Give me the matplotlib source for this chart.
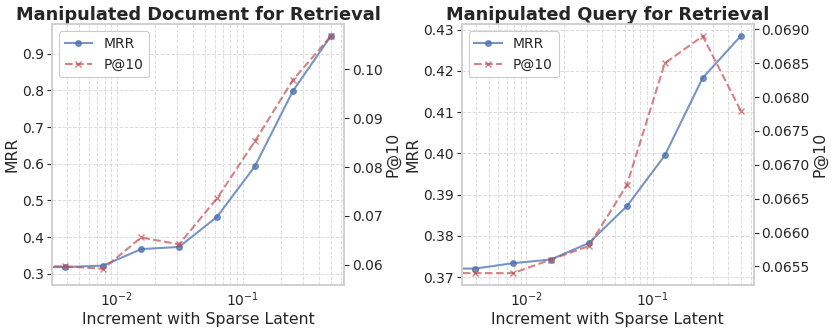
import numpy as np
import matplotlib
matplotlib.use("Agg")
import matplotlib.pyplot as plt

# increment values (0 = no increment, clipped off the log axis)
increments = [0, 2**-8, 2**-7, 2**-6, 2**-5, 2**-4, 2**-3, 2**-2, 2**-1]

doc_mrr = [0.3015, 0.318, 0.322, 0.367, 0.373, 0.455, 0.593, 0.798, 0.948]
doc_p10 = [0.0583, 0.0597, 0.0592, 0.0656, 0.0642, 0.0736, 0.0853, 0.0978, 0.1068]

query_mrr = [0.3710, 0.3721, 0.3734, 0.3743, 0.3783, 0.3872, 0.3995, 0.4183, 0.4284]
query_p10 = [0.0654, 0.0654, 0.0654, 0.0656, 0.0658, 0.0667, 0.0685, 0.0689, 0.0678]

titles = ["Manipulated Document for Retrieval", "Manipulated Query for Retrieval"]
xlabel = "Increment with Sparse Latent"

plt.rcParams["font.family"] = "DejaVu Sans"
plt.rcParams["text.color"] = "#262626"
plt.rcParams["axes.labelcolor"] = "#262626"
plt.rcParams["xtick.color"] = "#262626"
plt.rcParams["ytick.color"] = "#262626"

blue = "#4C72B0"
red = "#C44E52"

fig = plt.figure(figsize=(8.31, 3.3), dpi=100)
boxes = [[0.0626, 0.1364, 0.3514, 0.79], [0.5556, 0.1364, 0.3517, 0.79]]


def draw(box, title, mrr, p10):
    ax = fig.add_axes(box)
    ax2 = ax.twinx()
    l1, = ax.plot(increments, mrr, "-o", color=blue, alpha=0.75, lw=1.5,
                  markersize=4, label="MRR")
    l2, = ax2.plot(increments, p10, "--x", color=red, alpha=0.7, lw=1.5,
                   markersize=5, label="P@10")
    ax.set_xscale("log")
    ax.set_title(title, fontsize=12.8, fontweight="bold", pad=3)
    ax.set_xlabel(xlabel, fontsize=11.3, labelpad=2)
    ax.set_ylabel("MRR", fontsize=11.3, labelpad=2)
    ax2.set_ylabel("P@10", fontsize=11.3, labelpad=2)

    ax.grid(True, which="both", axis="x", ls="--", lw=0.7, color="#dcdcdc")
    ax.grid(True, which="major", axis="y", ls="--", lw=0.7, color="#dcdcdc")
    ax.set_axisbelow(True)
    for a in (ax, ax2):
        for s in a.spines.values():
            s.set_color("#d0d0d0")
            s.set_linewidth(1.2)
        a.tick_params(axis="y", labelsize=10, length=3.5, width=0.8, pad=2)
    ax.tick_params(axis="x", which="both", length=0, labelsize=10, pad=4)

    leg = ax.legend(handles=[l1, l2], loc="upper left", fontsize=10,
                    frameon=True, framealpha=1, edgecolor="#cccccc")
    leg.get_frame().set_linewidth(0.8)
    return ax, ax2


draw(boxes[0], titles[0], doc_mrr, doc_p10)
draw(boxes[1], titles[1], query_mrr, query_p10)

fig.savefig("out.png", dpi=100)
